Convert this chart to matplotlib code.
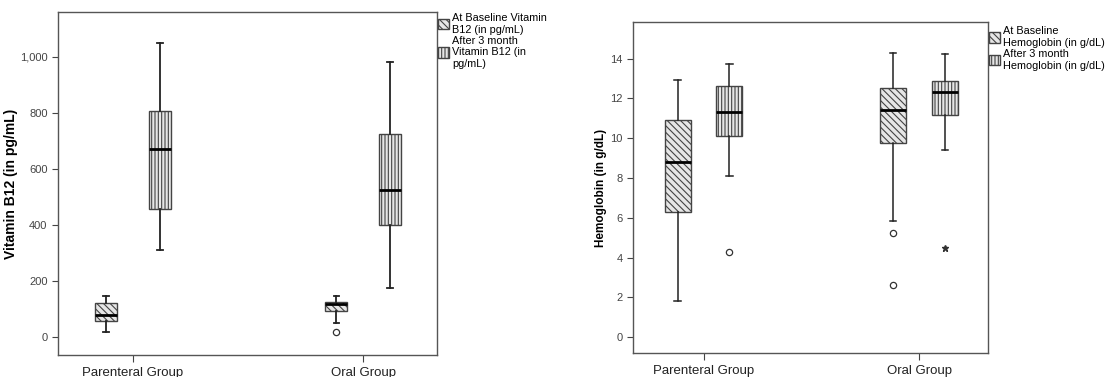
import matplotlib.pyplot as plt
import matplotlib.patches as mpatches
from matplotlib.ticker import FuncFormatter

groups = ["Parenteral Group", "Oral Group"]

# Vitamin B12 (pg/mL): [low whisker, Q1, median, Q3, high whisker]
b12_base = [[19, 58, 79, 120, 147], [51, 93, 117, 124, 147]]
b12_after = [[311, 458, 671, 805, 1049], [176, 399, 525, 723, 982]]
b12_base_out = [[], [19]]
b12_after_out = [[], []]

# Hemoglobin (g/dL)
hb_base = [[1.82, 6.27, 8.8, 10.9, 12.91], [5.82, 9.77, 11.42, 12.54, 14.3]]
hb_after = [[8.11, 10.12, 11.32, 12.61, 13.71], [9.41, 11.15, 12.31, 12.86, 14.23]]
hb_base_out = [[], [5.22, 2.61]]
hb_after_out = [[4.3], []]
hb_after_extreme = [[], [4.5]]

b12_legend = ["At Baseline Vitamin\nB12 (in pg/mL)", "After 3 month\nVitamin B12 (in\npg/mL)"]
hb_legend = ["At Baseline\nHemoglobin (in g/dL)", "After 3 month\nHemoglobin (in g/dL)"]

plt.rcParams['font.family'] = ['Liberation Sans', 'DejaVu Sans']
plt.rcParams['hatch.color'] = '#333333'
plt.rcParams['hatch.linewidth'] = 0.8

fig = plt.figure(figsize=(11.09, 3.77), dpi=100)
ax1 = fig.add_axes([0.0523, 0.0584, 0.3417, 0.9098])
ax2 = fig.add_axes([0.571, 0.0637, 0.320, 0.8779])

FACE = '#e6e6e6'
HATCH = ['\\\\\\\\\\', '|||||']


def stats(vals, out, label):
    lo, q1, med, q3, hi = vals
    return dict(whislo=lo, q1=q1, med=med, q3=q3, whishi=hi, fliers=out, label=label)


def draw(ax, base, after, base_out, after_out, offset, width, lw):
    for k, (data, outs) in enumerate([(base, base_out), (after, after_out)]):
        pos = [i + (-offset if k == 0 else offset) for i in range(len(groups))]
        st = [stats(v, o, '') for v, o in zip(data, outs)]
        bp = ax.bxp(st, positions=pos, widths=width, patch_artist=True,
                    manage_ticks=False,
                    boxprops=dict(facecolor=FACE, edgecolor='#444444', linewidth=1.0),
                    medianprops=dict(color='black', linewidth=2),
                    whiskerprops=dict(color='#222222', linewidth=lw),
                    capprops=dict(color='#222222', linewidth=lw),
                    capwidths=width * 0.25,
                    flierprops=dict(marker='o', markerfacecolor='none',
                                    markeredgecolor='#333333', markersize=4.5,
                                    markeredgewidth=0.9))
        for b in bp['boxes']:
            b.set_hatch(HATCH[k])


def style(ax, ylim, ylabel, lsize, lx):
    ax.set_xlim(-0.326, 1.32)
    ax.set_ylim(*ylim)
    ax.set_xticks(range(len(groups)))
    ax.set_xticklabels(groups, fontsize=9.5, color='#222222')
    ax.tick_params(axis='y', labelsize=8, colors='#444444', length=4)
    ax.tick_params(axis='x', length=5, colors='#444444')
    for lab in ax.get_xticklabels():
        lab.set_color('#222222')
    for s in ax.spines.values():
        s.set_color('#555555')
        s.set_linewidth(1.0)
    ax.set_ylabel(ylabel, fontsize=lsize, fontweight='bold')
    ax.yaxis.set_label_coords(lx, 0.5)


draw(ax1, b12_base, b12_after, b12_base_out, b12_after_out, 0.117, 0.096, 1.3)
style(ax1, (-64, 1160), "Vitamin B12 (in pg/mL)", 10, -0.105)
ax1.set_yticks([0, 200, 400, 600, 800, 1000])
ax1.yaxis.set_major_formatter(FuncFormatter(lambda v, p: f"{v:,.0f}"))

draw(ax2, hb_base, hb_after, hb_base_out, hb_after_out, 0.12, 0.12, 1.1)
for i, vals in enumerate(hb_after_extreme):
    for v in vals:
        ax2.plot(i + 0.12, v, marker='*', color='#333333', markersize=5, linestyle='none')
style(ax2, (-0.8, 15.84), "Hemoglobin (in g/dL)", 8.5, -0.073)
ax2.set_yticks(range(0, 15, 2))


def legend(ax, labels, y):
    handles = [mpatches.Patch(facecolor=FACE, edgecolor='#444444', hatch=h, label=l)
               for h, l in zip(HATCH, labels)]
    ax.legend(handles=handles, loc='upper left', bbox_to_anchor=(1.0, y),
              frameon=False, fontsize=7.8, handlelength=1.0, handleheight=1.1,
              handletextpad=0.3, borderaxespad=0.1, labelspacing=0.1,
              borderpad=0.0)


legend(ax1, b12_legend, 1.0)
legend(ax2, hb_legend, 0.99)

fig.savefig("out.png", dpi=100)
